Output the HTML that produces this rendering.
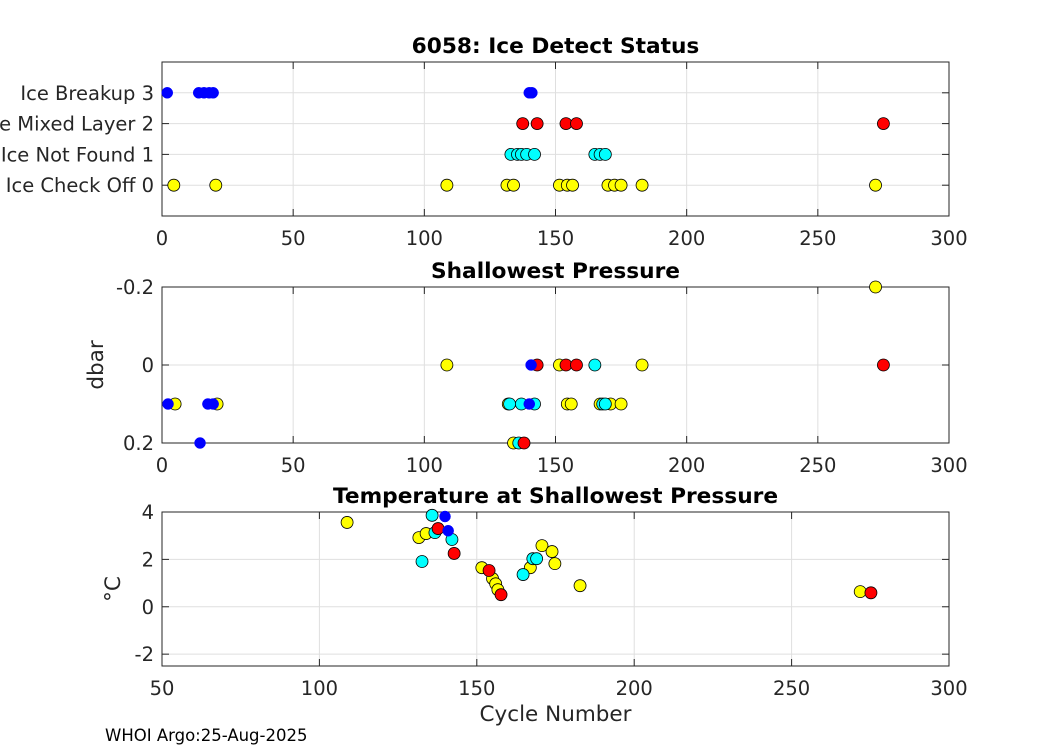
<!DOCTYPE html>
<html><head><meta charset="utf-8"><style>
body{margin:0;background:#fff}
svg{display:block;font-family:"DejaVu Sans","Liberation Sans",sans-serif}
</style></head><body>
<svg id="fig" width="1050" height="750"></svg>
<script>
// Panel 1: ice detect status
const p1Blue=[2,14,16,18,19.5,140,141];
const p1Red=[137.5,143,154,158,275];
const p1Cyan=[133,135.5,137,139,142,165,167,169];
const p1Yellow=[4.5,20.5,108.6,131.5,134,151.5,154.5,156.5,170,172.5,175,183,272];
const p1Labels=["Ice Check Off 0","Ice Not Found 1","Ice Mixed Layer 2","Ice Breakup 3"];
// Panel 2: shallowest pressure [cycle, dbar]
const p2Yellow=[[5,0.1],[21,0.1],[132,0.1],[154.5,0.1],[156,0.1],[167,0.1],[171,0.1],[175,0.1],[108.6,0],[151.5,0],[183,0],[272,-0.2],[134,0.2]];
const p2Cyan=[[132.5,0.1],[137,0.1],[142,0.1],[168,0.1],[169,0.1],[165,0],[136,0.2]];
const p2Red=[[143,0],[154,0],[158,0],[275,0],[138,0.2]];
const p2Blue=[[2.3,0.1],[17.5,0.1],[19.5,0.1],[140,0.1],[14.5,0.2],[140.7,0]];
// Panel 3: temperature [cycle, degC]
const p3Yellow=[[108.8,3.56],[131.6,2.92],[133.9,3.09],[151.6,1.65],[155,1.19],[156,0.97],[156.7,0.72],[167,1.65],[170.7,2.58],[173.9,2.33],[174.8,1.82],[182.8,0.89],[271.8,0.64]];
const p3Cyan=[[135.8,3.86],[136.7,3.13],[142.1,2.84],[132.6,1.91],[164.7,1.36],[167.8,2.03],[169,2.03]];
const p3Blue=[[139.9,3.81],[140.9,3.21]];
const p3Red=[[137.7,3.3],[142.8,2.25],[153.9,1.53],[157.7,0.51],[275.2,0.59]];
const xTicks1=[0,50,100,150,200,250,300];
const xTicks3=[50,100,150,200,250,300];
const yTicks2=[-0.2,0,0.2];
const yTicks3=[-2,0,2,4];

const svg=document.getElementById('fig');
const NS='http://www.w3.org/2000/svg';
function mk(tag,attrs,parent){const e=document.createElementNS(NS,tag);for(const k in attrs)e.setAttribute(k,attrs[k]);(parent||svg).appendChild(e);return e;}
function txt(s,x,y,anchor,size,weight,parent){const t=mk('text',{x:x,y:y,'text-anchor':anchor,'font-size':size,'font-weight':weight||'normal',fill:'#262626'},parent);t.textContent=s;return t;}
const L=162,R=949;
const TICK=19.5, TITLE=21.7, LAB=21.5;
function axes(name,top,bot,xmin,xmax,ymin,ymax,rev){
  const g=mk('g',{});
  
  
  const sx=v=>L+(v-xmin)/(xmax-xmin)*(R-L);
  const sy=rev?(v=>top+(v-ymin)/(ymax-ymin)*(bot-top)):(v=>bot-(v-ymin)/(ymax-ymin)*(bot-top));
  return {g,sx,sy,top,bot};
}
function frame(a,xt,yt,ylab){
  for(const v of xt){const x=a.sx(v);
    mk('line',{x1:x,x2:x,y1:a.top,y2:a.bot,stroke:'#dfdfdf'},a.g);
    mk('line',{x1:x,x2:x,y1:a.bot,y2:a.bot-7,stroke:'#262626'},a.g);
    mk('line',{x1:x,x2:x,y1:a.top,y2:a.top+7,stroke:'#262626'},a.g);
    const t=txt(String(v),x,a.bot+29,'middle',TICK,'normal',a.g);
    }
  yt.forEach((v,i)=>{const y=a.sy(v);
    mk('line',{x1:L,x2:R,y1:y,y2:y,stroke:'#dfdfdf'},a.g);
    mk('line',{x1:L,x2:L+7,y1:y,y2:y,stroke:'#262626'},a.g);
    mk('line',{x1:R,x2:R-7,y1:y,y2:y,stroke:'#262626'},a.g);
    const t=txt(ylab?ylab[i]:String(v),L-8,y+7,'end',TICK,'normal',a.g);
    });
  mk('rect',{x:L,y:a.top,width:R-L,height:a.bot-a.top,fill:'none',stroke:'#262626'},a.g);
}
function dots(a,pts,color,edge,name){
  for(const p of pts){const c=mk('circle',{cx:a.sx(p[0]),cy:a.sy(p[1]),r:edge?6:5.5,fill:color,stroke:edge?'#000':color,'stroke-width':edge?0.8:0.5},a.g);
    }
}
// Panel 1
const a1=axes('ice-status-panel',62,216,0,300,-1,4,false);
frame(a1,xTicks1,[0,1,2,3],p1Labels);
dots(a1,p1Yellow.map(v=>[v,0]),'#ffff00',true,'ice-check-off-point');
dots(a1,p1Cyan.map(v=>[v,1]),'#00ffff',true,'ice-not-found-point');
dots(a1,p1Red.map(v=>[v,2]),'#ff0000',true,'ice-mixed-layer-point');
dots(a1,p1Blue.map(v=>[v,3]),'#0000ff',false,'ice-breakup-point');
let t=txt('6058: Ice Detect Status',(L+R)/2,53,'middle',TITLE,'bold');
t.setAttribute('fill','#000');

// Panel 2
const a2=axes('pressure-panel',287,443,0,300,-0.2,0.2,true);
frame(a2,xTicks1,yTicks2);
dots(a2,p2Yellow,'#ffff00',true,'pressure-point-off');
dots(a2,p2Cyan,'#00ffff',true,'pressure-point-notfound');
dots(a2,p2Red,'#ff0000',true,'pressure-point-mixed');
dots(a2,p2Blue,'#0000ff',false,'pressure-point-breakup');
t=txt('Shallowest Pressure',(L+R)/2,278,'middle',TITLE,'bold');
t.setAttribute('fill','#000');

t=txt('dbar',0,0,'middle',LAB);t.setAttribute('transform','translate(103,365) rotate(-90)');

// Panel 3
const a3=axes('temperature-panel',512,666,50,300,-2.5,4,false);
frame(a3,xTicks3,yTicks3);
dots(a3,p3Yellow,'#ffff00',true,'temp-point-off');
dots(a3,p3Cyan,'#00ffff',true,'temp-point-notfound');
dots(a3,p3Red,'#ff0000',true,'temp-point-mixed');
dots(a3,p3Blue,'#0000ff',false,'temp-point-breakup');
t=txt('Temperature at Shallowest Pressure',(L+R)/2,503,'middle',TITLE,'bold');
t.setAttribute('fill','#000');

t=txt('°C',0,0,'middle',LAB);t.setAttribute('transform','translate(120,589) rotate(-90)');

t=txt('Cycle Number',(L+R)/2,721,'middle',LAB);

t=txt('WHOI Argo:25-Aug-2025',105,741,'start',16.5);t.setAttribute('fill','#000');

</script>
</body></html>
